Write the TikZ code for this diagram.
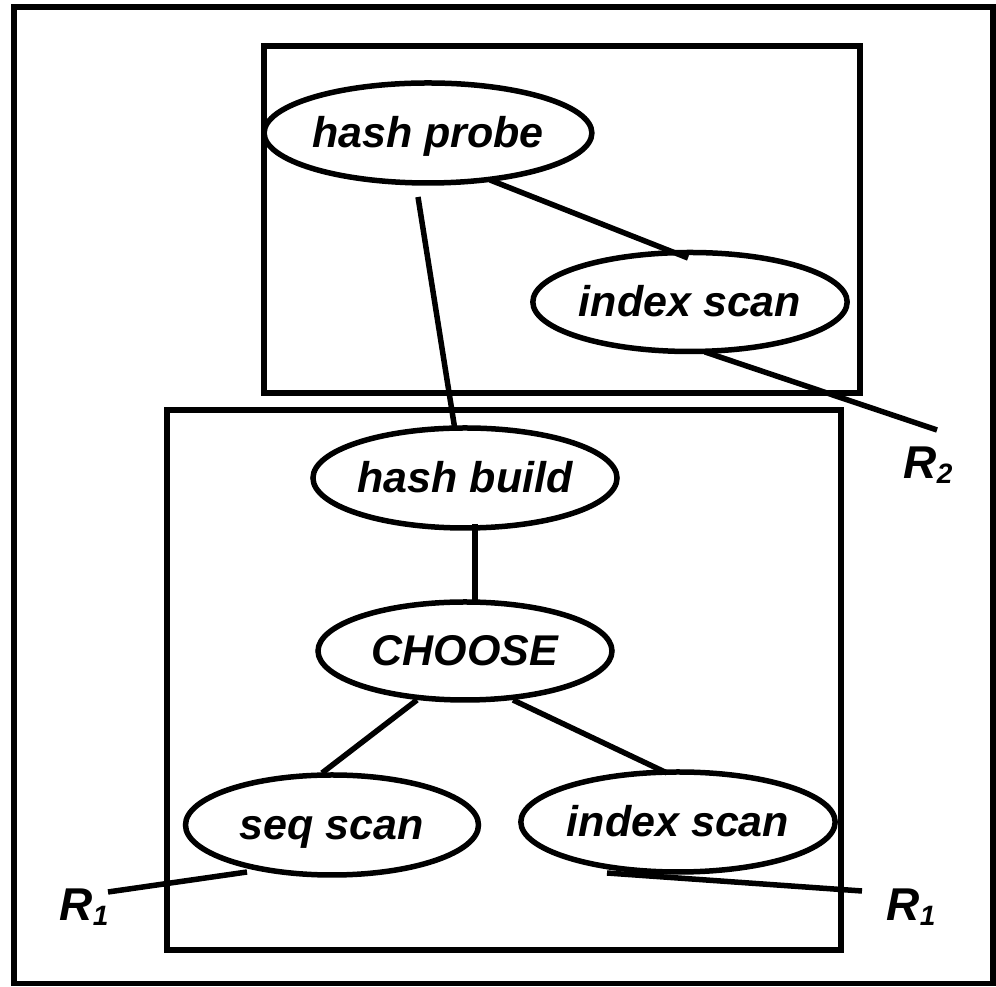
\documentclass[tikz,border=0pt]{standalone}
\usepackage{fontspec}
\setmainfont{Liberation Sans}
\usetikzlibrary{shapes.geometric,calc}

\tikzset{
  op/.style={ellipse, draw, line width=5.5pt, inner sep=0pt,
    minimum width=292pt, minimum height=100pt,
    text height=30pt, text depth=0pt,
    font=\fontsize{43}{50}\selectfont\bfseries\itshape},
  frame/.style={draw, line width=6.5pt},
  edge/.style={line width=5.5pt},
  rel/.style={inner sep=0pt, font=\fontsize{46}{50}\selectfont\bfseries\itshape}
}
\newcommand{\relname}[1]{R\raisebox{-5pt}{\fontsize{28}{30}\selectfont #1}}

\begin{document}
\begin{tikzpicture}[x=1pt,y=1pt]
\useasboundingbox (0,0) rectangle (996,987);

% frames
\draw[line width=5.5pt] (14,3.5) rectangle (993,980);
\draw[frame] (264,594) rectangle (860,941);
\draw[frame] (167,37) rectangle (841,577);

% operators
\node[op] (hp)  at (428,854) {hash probe};
\node[op, minimum width=284pt, minimum height=99pt] (isT) at (690,685) {index scan};
\node[op, minimum width=294pt] (hb)  at (465,509) {hash build};
\node[op, minimum width=294pt, minimum height=98pt] (ch)  at (465,336) {CHOOSE};
\node[op, minimum width=293pt] (ss)  at (332,162) {seq scan};
\node[op, minimum width=293pt] (isB) at (678,165) {index scan};

% relations
\node[rel] (r2)  at (928,522) {\relname{2}};
\node[rel] (r1l) at (84,80)   {\relname{1}};
\node[rel] (r1r) at (911,80)  {\relname{1}};
\coordinate (r2end)  at (937,557);
\coordinate (r1lend) at (108,95);
\coordinate (r1rend) at (862,96);

% connectors
\draw[edge] ($(hp.center)+(-10,-64)$) -- ($(hb.center)+(-10,48)$);
\draw[edge] ($(hp.center)+(62,-47)$) -- ($(isT.center)+(-2,44)$);
\draw[edge] ($(isT.center)+(15,-50)$) -- (r2end);
\draw[edge] ($(hb.center)+(10,-46)$) -- ($(ch.center)+(10,48)$);
\draw[edge] ($(ch.center)+(-48,-49)$) -- ($(ss.center)+(-10,52)$);
\draw[edge] ($(ch.center)+(48,-49)$) -- ($(isB.center)+(-11,49)$);
\draw[edge] ($(ss.center)+(-85,-47)$) -- (r1lend);
\draw[edge] ($(isB.center)+(-71,-51)$) -- (r1rend);
\end{tikzpicture}
\end{document}
